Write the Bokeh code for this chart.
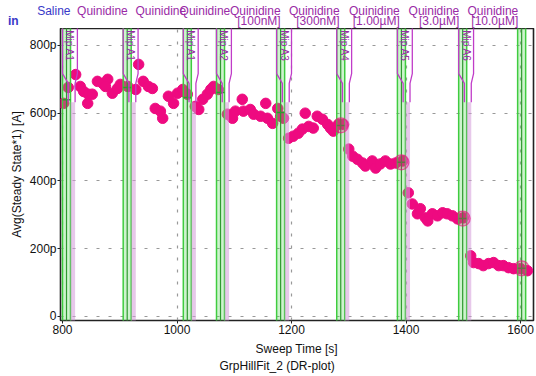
import math
from bokeh.plotting import figure
from bokeh.layouts import column
from bokeh.models import Range1d, FixedTicker
from bokeh.core.properties import value
from bokeh.embed import file_html
from bokeh.resources import INLINE

# ---------------- data ----------------
sweep_time_s = [802, 810, 823, 831, 837, 845, 844, 852, 861, 870, 879, 875, 887, 896, 901, 914,
                928, 933, 941, 950, 957, 962, 971, 975, 985, 994, 1001, 1010,
                1011, 1018, 1032, 1038, 1045, 1053, 1059, 1064, 1072,
                1088, 1097, 1102, 1114, 1116, 1128, 1134, 1146, 1155, 1158, 1167, 1176, 1181, 1186,
                1195, 1203, 1212, 1219, 1224, 1230, 1238, 1245, 1254, 1263, 1268, 1273, 1282, 1291,
                1300, 1307, 1315, 1324, 1329, 1341, 1347, 1355, 1364, 1373, 1382, 1394,
                1404, 1411, 1420, 1425, 1434, 1438, 1446, 1455, 1464, 1472, 1481, 1490, 1500,
                1513, 1518, 1527, 1535, 1544, 1553, 1562, 1570, 1579, 1588, 1600, 1612]
avg_steady_pA = [629, 676, 714, 679, 664, 656, 629, 656, 694, 688, 700, 679, 659, 673, 685, 679,
                 670, 744, 694, 679, 673, 614, 606, 585, 650, 629, 659, 670,
                 664, 656, 620, 611, 641, 656, 670, 679, 670,
                 597, 585, 606, 641, 606, 611, 597, 591, 629, 585, 570, 614, 591, 585,
                 526, 532, 541, 553, 600, 561, 556, 591, 582, 567, 556, 547, 567, 567,
                 494, 473, 464, 453, 444, 459, 438, 450, 459, 450, 453, 459,
                 365, 332, 303, 318, 291, 282, 303, 297, 306, 303, 297, 288, 291,
                 179, 159, 156, 150, 156, 159, 150, 150, 144, 141, 141, 135]

# compound-application markers (start time of each window, s)
band_start = [800, 906, 1011, 1069, 1174, 1279, 1385, 1492, 1595]
band_level = [640, 676, 646, 661, 602, 564, 455, 289, 142]
tag_text = ["Mip A1", "Mip A1", "Mip A1", "Mip A2", "Mip A3", "Mip A4", "Mip A5", "Mip A6"]
ring_bands = [5, 6, 7, 8]

cond_line1 = ["Saline", "Quinidine", "Quinidine", "Quinidine", "Quinidine",
              "Quinidine", "Quinidine", "Quinidine", "Quinidine"]
cond_line2 = ["", "", "", "", "[100nM]", "[300nM]", "[1.00\u00b5M]", "[3.0\u00b5M]", "[10.0\u00b5M]"]
cond_right = [814, 914, 1016, 1093, 1181, 1284, 1389, 1493, 1596]
cond_color = ["#3838c8"] + ["#9a2aa6"] * 8

x_ticks = [800, 1000, 1200, 1400, 1600]
y_ticks = [0, 200, 400, 600, 800]
y_tick_labels = ["0", "200p", "400p", "600p", "800p"]

FONT = "Liberation Sans"
PINK = "#ee0a80"
W = 536
X_RANGE = Range1d(796.5, 1622.7)

# ---------------- top strip: condition labels ----------------
top = figure(width=W, height=28, output_backend="svg", toolbar_location=None,
             x_axis_type=None, y_axis_type=None,
             x_range=Range1d(691.7, 1627.9), y_range=Range1d(0, 28),
             min_border_left=0, min_border_right=0, min_border_top=0, min_border_bottom=0)
top.grid.visible = False
top.outline_line_color = None
top.background_fill_color = "white"
top.border_fill_color = "white"
top.text(x=cond_right, y=[18] * len(cond_right), text=cond_line1, text_align="right",
         text_baseline="middle", text_font=value(FONT), text_font_size="12px",
         text_color=cond_color)
idx2 = [i for i, t in enumerate(cond_line2) if t]
top.text(x=[cond_right[i] for i in idx2], y=[7.5] * len(idx2), text=[cond_line2[i] for i in idx2],
         text_align="right", text_baseline="middle", text_font=value(FONT),
         text_font_size="12px", text_color=[cond_color[i] for i in idx2])
top.text(x=[714], y=[7.5], text=["in"], text_align="center", text_baseline="middle",
         text_font=value(FONT), text_font_size="12px", text_font_style="bold",
         text_color="#3838c8")

# ---------------- main plot ----------------
p = figure(width=W, height=312, output_backend="svg", toolbar_location=None,
           x_range=X_RANGE, y_range=Range1d(-12, 850),
           min_border_left=60, min_border_right=3, min_border_top=0, min_border_bottom=20)
p.background_fill_color = "white"
p.border_fill_color = "white"
p.outline_line_color = "#222222"
p.outline_line_width = 1.6

p.xaxis.ticker = FixedTicker(ticks=x_ticks)
p.yaxis.ticker = FixedTicker(ticks=y_ticks)
p.yaxis.major_label_overrides = {t: l for t, l in zip(y_ticks, y_tick_labels)}
for ax in (p.xaxis[0], p.yaxis[0]):
    ax.axis_line_color = None
    ax.minor_tick_line_color = None
    ax.major_tick_line_color = "#222222"
    ax.major_tick_in = 0
    ax.major_tick_out = 3
    ax.major_label_standoff = 1
    ax.major_label_text_font = FONT
    ax.major_label_text_font_size = "12px"
    ax.major_label_text_color = "#111111"
p.yaxis.axis_label = "Avg(Steady State*1) [A]"
p.yaxis.axis_label_text_font = FONT
p.yaxis.axis_label_text_font_size = "12px"
p.yaxis.axis_label_text_font_style = "normal"
p.yaxis.axis_label_text_color = "#111111"
p.yaxis.axis_label_standoff = 3

for g in (p.xgrid[0], p.ygrid[0]):
    g.grid_line_color = "#999999"
    g.grid_line_dash = "3 9"
    g.grid_line_width = 1.2

# data points
p.scatter(sweep_time_s, avg_steady_pA, size=10.5, fill_color=PINK, line_color=PINK)

# green bands
gl = band_start
gr = [a + 14 for a in band_start]
gc = [a + 7 for a in band_start]
p.quad(left=gl, right=gr, bottom=-30, top=900, fill_color="#5ed65e", fill_alpha=0.3,
       line_color="#3fcc3f", line_width=1.5)
p.segment(x0=gc, y0=[-30] * len(gc), x1=gc, y1=[900] * len(gc), line_color="#2f9a2f", line_width=1.2)
p.segment(x0=gl, y0=band_level, x1=gr, y1=band_level, line_color="#2f9a2f", line_width=1.5)

# pink stripes + tags
tb = band_start[:len(tag_text)]
p.quad(left=[a + 14 for a in tb], right=[a + 22 for a in tb], bottom=-30, top=632,
       fill_color="#d49ad8", fill_alpha=0.55, line_color=None)
xs, ys = [], []
for a in tb:
    xs.append([a, a, a + 10, a + 10]); ys.append([900, 717, 688, 632])
    xs.append([a + 26, a + 26, a + 22, a + 22]); ys.append([900, 717, 688, 632])
p.multi_line(xs, ys, line_color="#c03cc8", line_width=1.3)
p.text(x=[a + 13 for a in tb], y=[845] * len(tb), text=tag_text, angle=-math.pi / 2,
       text_align="left", text_baseline="middle", text_font=value(FONT),
       text_font_size="10px", text_color="#9a2aa6")

# highlighted fit points
p.scatter([band_start[i] + 7 for i in ring_bands], [band_level[i] for i in ring_bands], size=15,
          fill_color=PINK, fill_alpha=0.3, line_color=PINK, line_alpha=0.6, line_width=1.2)

# ---------------- bottom strip: titles ----------------
bot = figure(width=W, height=34, output_backend="svg", toolbar_location=None,
             x_axis_type=None, y_axis_type=None,
             x_range=X_RANGE, y_range=Range1d(0, 34),
             min_border_left=60, min_border_right=3, min_border_top=0, min_border_bottom=0)
bot.grid.visible = False
bot.outline_line_color = None
bot.background_fill_color = "white"
bot.border_fill_color = "white"
bot.text(x=[1209, 1175], y=[25.5, 9], text=["Sweep Time [s]", "GrpHillFit_2 (DR-plot)"],
         text_align="center", text_baseline="middle", text_font=value(FONT),
         text_font_size="12px", text_color="#111111")

# the label strip is wrapped in its own column so its frame is not aligned with the plot's
layout = column(column(top, spacing=0), p, bot, spacing=0)
open("out.html", "w").write(file_html(layout, INLINE))
